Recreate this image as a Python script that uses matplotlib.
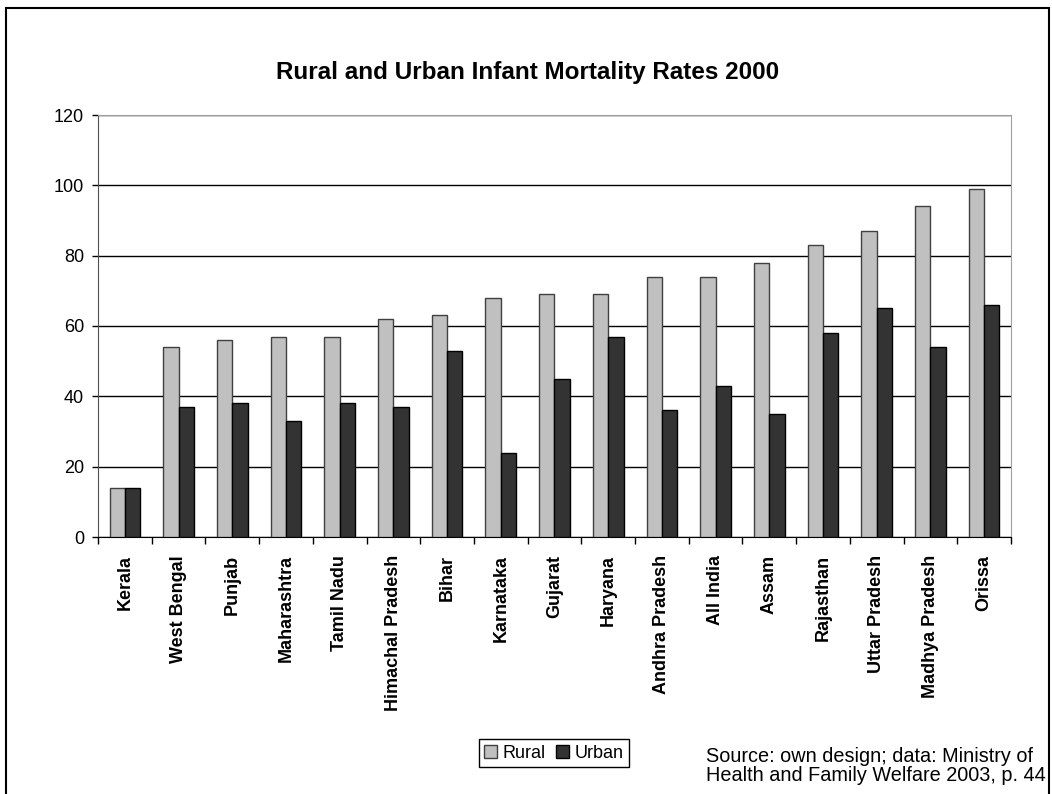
import numpy as np
import matplotlib
matplotlib.use("Agg")
import matplotlib.pyplot as plt
from matplotlib.patches import Rectangle

plt.rcParams['font.family'] = ['Liberation Sans', 'DejaVu Sans']

states = ["Kerala", "West Bengal", "Punjab", "Maharashtra", "Tamil Nadu",
          "Himachal Pradesh", "Bihar", "Karnataka", "Gujarat", "Haryana",
          "Andhra Pradesh", "All India", "Assam", "Rajasthan", "Uttar Pradesh",
          "Madhya Pradesh", "Orissa"]
rural = [14, 54, 56, 57, 57, 62, 63, 68, 69, 69, 74, 74, 78, 83, 87, 94, 99]
urban = [14, 37, 38, 33, 38, 37, 53, 24, 45, 57, 36, 43, 35, 58, 65, 54, 66]

W, H = 1052, 794
fig = plt.figure(figsize=(W / 100, H / 100), dpi=100)
ax = fig.add_axes([98 / W, 1 - 537 / H, 913 / W, 422 / H])

x = np.arange(len(states))
w = 1 / 3.5
ax.bar(x - w / 2, rural, w, color="#c0c0c0", edgecolor="#404040", linewidth=1,
       label="Rural", zorder=3)
ax.bar(x + w / 2, urban, w, color="#333333", edgecolor="black", linewidth=1,
       label="Urban", zorder=3)

ax.set_xlim(-0.5, len(states) - 0.5)
ax.set_ylim(0, 120)
ax.set_yticks(range(0, 121, 20))
ax.tick_params(axis="y", labelsize=13, direction="out", length=4, width=1, pad=6)
ax.yaxis.grid(True, color="black", linewidth=1, zorder=0)

# category names centred under each pair, tick marks between categories
ax.set_xticks(x)
ax.set_xticklabels(states, rotation=90, fontsize=13, fontweight="bold")
ax.tick_params(axis="x", which="major", length=0, pad=13)
ax.set_xticks(np.arange(-0.5, len(states)), minor=True)
ax.tick_params(axis="x", which="minor", length=5, width=1, direction="out")

for side in ["top", "right"]:
    ax.spines[side].set_color("#a0a0a0")
ax.spines["left"].set_color("#505050")
ax.spines["bottom"].set_color("black")

fig.text(528 / W, 1 - 72 / H, "Rural and Urban Infant Mortality Rates 2000",
         ha="center", va="center", fontsize=17.5, fontweight="bold")

ax.legend(loc="center", bbox_to_anchor=(554 / W, 1 - 753 / H),
          bbox_transform=fig.transFigure, ncol=2, fontsize=13, frameon=True,
          fancybox=False, edgecolor="black", framealpha=1,
          handlelength=0.7, handleheight=0.7, handletextpad=0.3,
          columnspacing=0.6, borderpad=0.3, borderaxespad=0)

fig.text(706 / W, 1 - 766 / H,
         "Source: own design; data: Ministry of\nHealth and Family Welfare 2003, p. 44",
         ha="left", va="center", fontsize=14.3, linespacing=1.05)

# thin frame around the chart area
fig.patches.append(Rectangle((6 / W, -0.05), 1043 / W, 1.05 - 8 / H,
                             transform=fig.transFigure, fill=False,
                             edgecolor="black", linewidth=1.5, clip_on=False))

fig.savefig("out.png", dpi=100)
